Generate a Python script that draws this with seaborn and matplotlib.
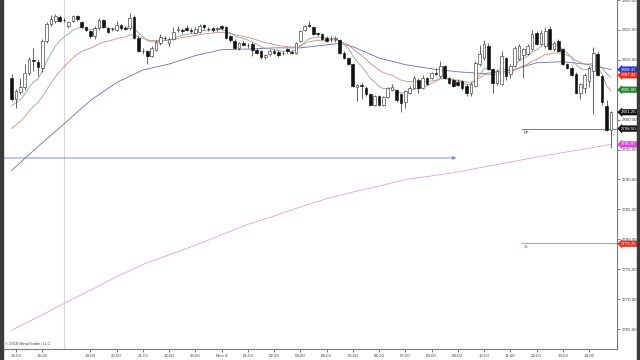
import matplotlib
matplotlib.use("Agg")
import matplotlib.pyplot as plt
from matplotlib.patches import Rectangle
from matplotlib.transforms import blended_transform_factory
import numpy as np
import pandas as pd
import seaborn as sns

# ---------------- data (10-minute bars) ----------------
opens = [2807.0, 2803.5, 2804.7, 2805.5, 2807.8, 2810.0, 2809.7, 2808.7, 2813.2, 2816.0,
         2816.5, 2817.2, 2816.7, 2815.7, 2816.5, 2817.3, 2816.3, 2815.5, 2814.8, 2814.0,
         2815.3, 2816.7, 2815.3, 2815.2, 2815.0, 2815.8, 2815.3, 2815.3, 2817.2, 2813.7,
         2811.5, 2811.5, 2810.7, 2811.7, 2812.8, 2813.7, 2812.8, 2813.5, 2815.0, 2815.0,
         2815.3, 2815.0, 2814.5, 2814.7, 2815.8, 2815.2, 2815.3, 2815.2, 2815.7, 2815.5,
         2814.0, 2813.2, 2812.0, 2812.8, 2812.5, 2812.7, 2811.7, 2811.5, 2810.5, 2811.0,
         2811.5, 2811.3, 2811.2, 2811.8, 2811.3, 2811.2, 2813.2, 2815.0, 2815.8, 2815.5,
         2814.5, 2814.3, 2813.7, 2813.5, 2813.5, 2813.3, 2811.2, 2810.3, 2809.3, 2805.5,
         2805.8, 2805.3, 2804.3, 2802.5, 2804.0, 2802.5, 2803.8, 2805.0, 2805.0, 2804.3,
         2803.0, 2804.5, 2805.3, 2806.7, 2805.3, 2807.0, 2807.0, 2807.8, 2807.3, 2809.0,
         2807.0, 2806.7, 2806.3, 2806.5, 2805.7, 2804.5, 2805.7, 2809.3, 2810.3, 2812.3,
         2808.5, 2806.2, 2806.0, 2810.3, 2807.7, 2809.0, 2810.2, 2810.8, 2811.0, 2811.8,
         2814.5, 2812.7, 2812.3, 2815.2, 2811.8, 2813.2, 2811.8, 2809.3, 2808.7, 2807.7,
         2804.5, 2805.3, 2806.5, 2808.2, 2811.0, 2807.3, 2802.3, 2798.3]
highs = [2807.7, 2805.2, 2807.0, 2809.3, 2810.5, 2812.0, 2810.2, 2813.5, 2816.3, 2817.5,
         2817.7, 2817.5, 2817.0, 2816.5, 2817.5, 2817.5, 2816.5, 2815.7, 2815.0, 2815.7,
         2817.0, 2816.8, 2815.5, 2815.5, 2816.5, 2816.0, 2815.7, 2817.8, 2817.5, 2813.9,
         2812.0, 2811.7, 2812.3, 2813.3, 2814.3, 2814.0, 2813.8, 2815.5, 2815.7, 2815.3,
         2815.8, 2815.3, 2815.5, 2816.0, 2816.0, 2815.5, 2815.5, 2815.5, 2815.8, 2815.7,
         2814.2, 2813.4, 2813.0, 2813.2, 2812.8, 2812.9, 2811.9, 2811.7, 2811.0, 2811.8,
         2811.8, 2811.6, 2811.5, 2812.0, 2811.6, 2813.0, 2815.0, 2815.9, 2816.5, 2815.7,
         2814.7, 2814.5, 2813.9, 2814.0, 2814.0, 2813.5, 2811.4, 2810.5, 2809.5, 2806.0,
         2806.2, 2805.6, 2804.5, 2804.2, 2804.2, 2804.0, 2805.5, 2806.0, 2805.2, 2804.5,
         2805.0, 2805.7, 2807.3, 2806.9, 2807.5, 2807.2, 2808.0, 2808.7, 2809.8, 2809.2,
         2807.2, 2806.9, 2806.8, 2806.7, 2805.9, 2806.3, 2809.8, 2812.5, 2813.3, 2812.8,
         2808.7, 2808.5, 2811.5, 2810.5, 2809.3, 2812.3, 2812.7, 2812.0, 2812.7, 2815.0,
         2814.8, 2815.0, 2815.5, 2815.6, 2813.2, 2813.5, 2812.0, 2809.5, 2809.0, 2807.9,
         2806.2, 2807.8, 2809.0, 2812.2, 2811.5, 2807.5, 2803.3, 2801.5]
lows = [2803.2, 2802.0, 2804.3, 2805.0, 2807.5, 2808.2, 2807.3, 2808.0, 2812.8, 2815.7,
        2816.2, 2816.3, 2816.3, 2815.3, 2816.3, 2816.5, 2815.3, 2814.8, 2813.7, 2813.5,
        2815.0, 2815.3, 2814.5, 2814.8, 2814.8, 2815.0, 2815.0, 2815.0, 2813.5, 2811.3,
        2811.0, 2809.3, 2810.5, 2811.5, 2812.5, 2813.3, 2812.3, 2813.3, 2814.7, 2814.5,
        2814.8, 2814.5, 2814.3, 2814.5, 2815.2, 2814.8, 2814.7, 2814.8, 2815.0, 2813.5,
        2813.0, 2811.8, 2811.7, 2812.3, 2812.0, 2810.7, 2811.0, 2810.2, 2810.2, 2810.7,
        2811.0, 2810.5, 2810.8, 2811.2, 2810.9, 2811.0, 2813.0, 2814.8, 2815.5, 2814.1,
        2814.0, 2813.3, 2813.0, 2813.0, 2813.0, 2811.0, 2810.1, 2809.1, 2805.5, 2803.2,
        2803.5, 2804.0, 2802.3, 2802.3, 2802.3, 2802.3, 2803.6, 2804.8, 2803.0, 2801.3,
        2802.0, 2804.3, 2805.1, 2804.5, 2805.1, 2805.8, 2806.8, 2807.4, 2807.0, 2806.8,
        2806.0, 2805.5, 2805.6, 2805.0, 2804.0, 2804.0, 2805.5, 2809.0, 2810.0, 2808.3,
        2804.5, 2805.8, 2805.8, 2806.7, 2807.0, 2808.8, 2810.0, 2807.0, 2810.8, 2811.6,
        2812.5, 2812.5, 2812.0, 2811.6, 2811.5, 2811.3, 2809.1, 2808.5, 2807.3, 2804.3,
        2803.5, 2804.5, 2805.5, 2801.0, 2807.3, 2802.5, 2798.1, 2795.3]
closes = [2803.5, 2804.8, 2805.5, 2807.8, 2810.2, 2809.8, 2808.8, 2813.2, 2816.0, 2816.8,
          2817.3, 2816.5, 2816.6, 2816.3, 2817.3, 2816.8, 2815.5, 2815.0, 2814.0, 2815.3,
          2816.7, 2815.5, 2814.7, 2815.1, 2815.8, 2815.3, 2815.2, 2817.0, 2813.7, 2811.5,
          2811.4, 2810.7, 2812.0, 2813.0, 2813.8, 2813.6, 2813.5, 2814.7, 2815.1, 2814.9,
          2815.0, 2814.9, 2815.2, 2815.7, 2815.5, 2815.1, 2815.0, 2815.3, 2815.3, 2813.7,
          2813.3, 2812.0, 2812.8, 2812.5, 2812.4, 2811.7, 2811.2, 2810.5, 2810.8, 2811.5,
          2811.2, 2810.8, 2811.1, 2811.5, 2811.2, 2812.8, 2814.8, 2815.7, 2815.7, 2814.3,
          2814.3, 2813.5, 2813.2, 2813.4, 2813.6, 2811.2, 2810.3, 2809.3, 2805.7, 2805.8,
          2805.7, 2804.3, 2802.5, 2804.0, 2802.5, 2803.8, 2805.3, 2805.5, 2803.3, 2802.8,
          2804.8, 2805.3, 2807.0, 2805.3, 2807.0, 2806.0, 2807.8, 2807.7, 2809.0, 2807.0,
          2806.2, 2805.7, 2805.8, 2805.3, 2804.5, 2806.0, 2809.5, 2811.0, 2812.7, 2808.5,
          2806.2, 2808.2, 2810.7, 2807.3, 2809.0, 2812.0, 2812.3, 2811.8, 2812.3, 2814.3,
          2812.7, 2814.5, 2814.8, 2811.8, 2812.8, 2811.5, 2809.3, 2808.7, 2807.5, 2804.5,
          2806.0, 2807.5, 2808.7, 2811.2, 2807.5, 2803.0, 2798.3, 2801.2]

# slow averages (hourly samples, bar index)
slow_idx = [0, 6, 12, 18, 24, 30, 36, 42, 48, 54, 60, 66, 72, 75, 78, 84, 90, 96,
            102, 108, 114, 120, 126, 132, 137]
blue_ma = [2791.5, 2795.5, 2799.3, 2803.2, 2806.2, 2808.3, 2809.3, 2810.7, 2811.7,
           2811.8, 2812.0, 2812.0, 2812.5, 2812.75, 2812.2, 2810.3, 2809.2, 2808.5,
           2808.0, 2807.7, 2808.2, 2809.5, 2809.7, 2809.2, 2808.37]
mag_idx = [0, 6, 12, 18, 24, 30, 36, 42, 48, 54, 60, 66, 72, 78, 84, 90, 96, 102,
           108, 114, 120, 126, 132, 137]
magenta_ma = [2764.8, 2767.0, 2769.3, 2771.5, 2773.75, 2775.8, 2777.4, 2779.0, 2780.75,
              2782.5, 2783.9, 2785.4, 2786.8, 2787.9, 2788.9, 2790.0, 2790.6, 2791.25,
              2792.1, 2792.9, 2793.75, 2794.5, 2795.2, 2795.87]
fast_span, fast_seed = 9, 2802.0
mid_span, mid_seed = 20, 2798.0

tick_bars = [1, 7, 18, 24, 30, 36, 42, 48, 54, 60, 66, 72, 78, 84, 90, 96, 102, 108,
             114, 120, 126, 132]
tick_labels = ["15:00", "16:00", "19:00", "20:00", "21:00", "22:00", "23:00", "Nov 8",
               "01:00", "02:00", "03:00", "04:00", "05:00", "06:00", "07:00", "08:00",
               "09:00", "10:00", "11:00", "12:00", "13:00", "14:00"]
y_ticks = [2765, 2770, 2775, 2780, 2785, 2790, 2795, 2800, 2805, 2810, 2815, 2820]
hidden_ticks = [2805]  # covered by a price flag in the reference

session_break = 12
pp_level, s1_level, arrow_level = 2798.5, 2779.35, 2793.6
pp_start, arrow_end = 116.5, 102.3
flags = [(2808.37, "2808.37", "#2036d8"), (2807.42, "2807.42", "#e8301e"),
         (2805.00, "2805.00", "#1f8a24"), (2801.25, "2801.25", "#111111"),
         (2798.50, "2798.50", "#111111"), (2795.87, "2795.87", "#e040e0"),
         (2779.25, "2779.25", "#e8301e")]

# ---------------- drawing ----------------
sns.set_theme(style="white")
plt.rcParams["font.family"] = ["Liberation Sans", "DejaVu Sans"]

fig = plt.figure(figsize=(6.4, 3.6), dpi=100)
fig.patch.set_facecolor("white")
ax = fig.add_axes([3 / 640, 11 / 360, 614 / 640, 349 / 360])
ax.set_facecolor("white")

n = len(closes)
idx = np.arange(n)
df = pd.DataFrame({"bar": idx, "open": opens, "high": highs, "low": lows, "close": closes})

fast = pd.Series([fast_seed] + closes).ewm(span=fast_span, adjust=False).mean().iloc[1:].values
mid = pd.Series([mid_seed] + closes).ewm(span=mid_span, adjust=False).mean().iloc[1:].values

ax.axvline(session_break, color="#d8d8d8", lw=0.8, zorder=1)

sns.lineplot(x=mag_idx, y=magenta_ma, ax=ax, color="#dca0e0", lw=0.6, zorder=2)
sns.lineplot(x=slow_idx, y=blue_ma, ax=ax, color="#6870b4", lw=0.6, zorder=2)
sns.lineplot(x=idx, y=mid, ax=ax, color="#d08a80", lw=0.6, zorder=2)
sns.lineplot(x=idx, y=fast, ax=ax, color="#8fa892", lw=0.6, zorder=2)

# horizontal drawing objects
ax.annotate("", xy=(arrow_end, arrow_level), xytext=(-2.5, arrow_level),
            arrowprops=dict(arrowstyle="-|>", color="#7890cc", lw=0.7, mutation_scale=5),
            zorder=2)
ax.hlines(pp_level, pp_start, 139, color="#6a6a6a", lw=0.6, zorder=2)
ax.hlines(s1_level, pp_start, 139, color="#d48070", lw=0.6, zorder=2)
ax.text(pp_start + 0.6, pp_level - 0.35, "PP", fontsize=3, color="#444444", va="top")
ax.text(pp_start + 0.6, s1_level - 0.35, "S1", fontsize=3, color="#d0402e", va="top")

# candles
up = df["close"] >= df["open"]
ax.vlines(df["bar"], df["low"], df["high"], color="#3a3a3a", lw=0.55, zorder=3)
body_lo = np.minimum(df["open"], df["close"])
body_h = np.maximum(np.abs(df["close"] - df["open"]), 0.1)
ax.bar(df["bar"][up], body_h[up], bottom=body_lo[up], width=0.6, color="white",
       edgecolor="#3a3a3a", linewidth=0.45, zorder=4)
ax.bar(df["bar"][~up], body_h[~up], bottom=body_lo[~up], width=0.6, color="#111111",
       edgecolor="#111111", linewidth=0.45, zorder=4)

ax.set_xlim(-1.97, 138.4)
ax.set_ylim(2761.67, 2819.83)

for s in ["left", "top"]:
    ax.spines[s].set_visible(False)
for s in ["right", "bottom"]:
    ax.spines[s].set_color("#7a7a7a")
    ax.spines[s].set_linewidth(0.8)

ax.yaxis.tick_right()
ax.set_yticks(y_ticks)
ax.set_yticklabels(["" if v in hidden_ticks else f"{v:.2f}" for v in y_ticks])
ax.set_xticks(tick_bars)
ax.set_xticklabels(tick_labels)
ax.tick_params(axis="y", right=True, left=False, length=2, width=0.5, pad=1.5,
               labelsize=3.2, colors="#444444")
ax.tick_params(axis="x", bottom=True, length=2, width=0.5, pad=1.5,
               labelsize=3.2, colors="#444444")
ax.set_xlabel("")
ax.set_ylabel("")
ax.grid(False)

# price flags on the right axis
trans = blended_transform_factory(ax.transAxes, ax.transData)
for val, txt, col in flags:
    ax.text(1.0062, val, txt, transform=trans, fontsize=3.2, color="white",
            va="center", ha="left", clip_on=False, zorder=10,
            bbox=dict(boxstyle="larrow,pad=0.2", fc=col, ec=col, lw=0.3))

ax.text(0.004, 0.009, "© 2018 NinjaTrader, LLC", transform=ax.transAxes,
        fontsize=3, color="#444444", va="bottom", ha="left")

# window borders
fig.add_artist(Rectangle((0, 0), 3 / 640, 1, transform=fig.transFigure,
                         color="#3c3c3c", zorder=20))
fig.add_artist(Rectangle((637 / 640, 0), 3 / 640, 1, transform=fig.transFigure,
                         color="#3c3c3c", zorder=20))

fig.savefig("out.png", dpi=100)
